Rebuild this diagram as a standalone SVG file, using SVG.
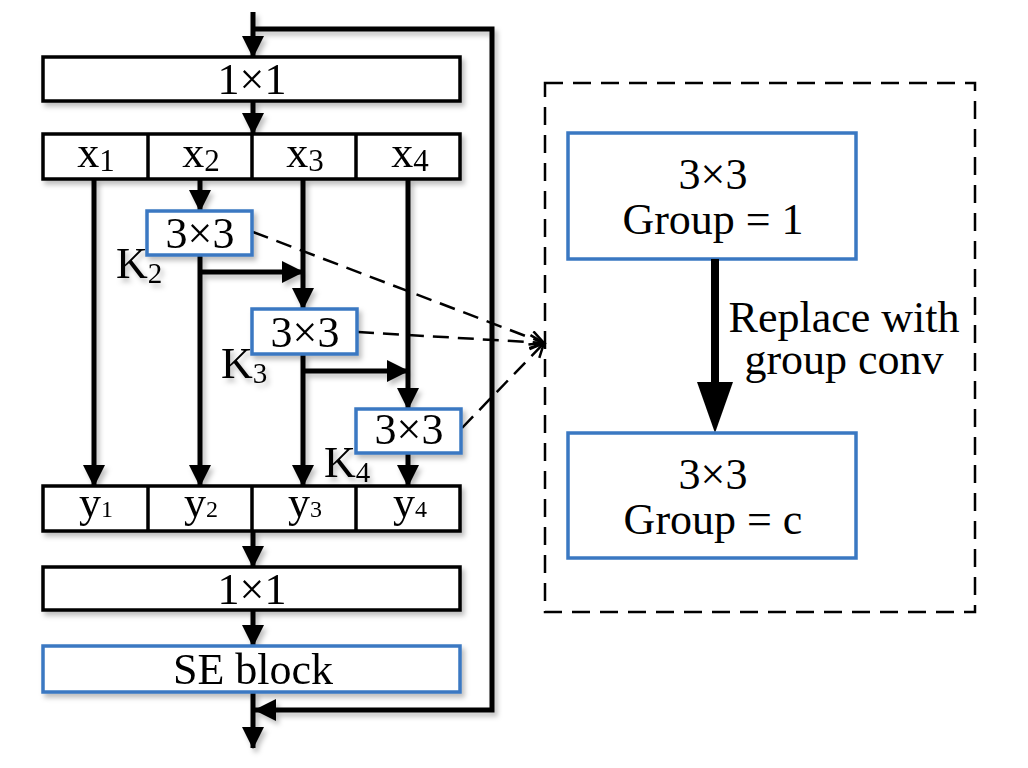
<svg xmlns="http://www.w3.org/2000/svg" width="1028" height="768" viewBox="0 0 1028 768">
<defs>
  <marker id="ah" markerUnits="userSpaceOnUse" markerWidth="22" markerHeight="22" refX="21" refY="11" orient="auto">
    <path d="M0,0 L22,11 L0,22 z" fill="#000"/>
  </marker>
  <marker id="oh" markerUnits="userSpaceOnUse" markerWidth="18" markerHeight="18" refX="15" refY="8" orient="auto">
    <path d="M1,1 L15,8 L1,15" fill="none" stroke="#000" stroke-width="2.5"/>
  </marker>
  <filter id="sh" x="-10%" y="-10%" width="130%" height="130%">
    <feDropShadow dx="3" dy="4" stdDeviation="2.5" flood-color="#000" flood-opacity="0.25"/>
  </filter>
</defs>
<style>
  .bk{fill:#fff;stroke:#000;stroke-width:3.5}
  .bl{fill:#fff;stroke:#3a78c2;stroke-width:3.5}
  .ln{fill:none;stroke:#000;stroke-width:5}
  .dl{fill:none;stroke:#000;stroke-width:2.5;stroke-dasharray:16 9}
  text{font-family:"Liberation Serif","Times New Roman",serif;font-size:44px;fill:#000}
  .c{text-anchor:middle}
</style>
<rect width="1028" height="768" fill="#fff"/>

<g id="connectors" filter="url(#sh)">
  <path class="ln" d="M253,12 V57" marker-end="url(#ah)"/>
  <path class="ln" d="M253,29 H492 V710 H255" marker-end="url(#ah)"/>
  <path class="ln" d="M253,101 V134" marker-end="url(#ah)"/>
  <path class="ln" d="M94,179 V486" marker-end="url(#ah)"/>
  <path class="ln" d="M200,179 V211" marker-end="url(#ah)"/>
  <path class="ln" d="M200,255 V486" marker-end="url(#ah)"/>
  <path class="ln" d="M200,272 H303" marker-end="url(#ah)"/>
  <path class="ln" d="M303,179 V309" marker-end="url(#ah)"/>
  <path class="ln" d="M303,354 V486" marker-end="url(#ah)"/>
  <path class="ln" d="M303,371 H408" marker-end="url(#ah)"/>
  <path class="ln" d="M408,179 V409" marker-end="url(#ah)"/>
  <path class="ln" d="M408,453 V486" marker-end="url(#ah)"/>
  <path class="ln" d="M253,531 V567" marker-end="url(#ah)"/>
  <path class="ln" d="M253,610 V646" marker-end="url(#ah)"/>
  <path class="ln" d="M253,692 V748" marker-end="url(#ah)"/>
</g>

<g id="dashed-links">
  <path class="dl" d="M253,232 L544,343" marker-end="url(#oh)"/>
  <path class="dl" d="M358,332 L544,343" marker-end="url(#oh)"/>
  <path class="dl" d="M462,428 L544,343" marker-end="url(#oh)"/>
</g>

<g id="conv1x1-top" filter="url(#sh)">
  <rect class="bk" x="43" y="57" width="417" height="44"/>
  <text class="c" x="252" y="94">1×1</text>
</g>

<g id="x-split" filter="url(#sh)">
  <rect class="bk" x="43" y="134" width="417" height="45"/>
  <line x1="148" y1="134" x2="148" y2="179" stroke="#000" stroke-width="3.5"/>
  <line x1="252" y1="134" x2="252" y2="179" stroke="#000" stroke-width="3.5"/>
  <line x1="356" y1="134" x2="356" y2="179" stroke="#000" stroke-width="3.5"/>
  <text class="c" x="96" y="167">x<tspan font-size="31" dy="4">1</tspan></text>
  <text class="c" x="201" y="167">x<tspan font-size="31" dy="4">2</tspan></text>
  <text class="c" x="305" y="167">x<tspan font-size="31" dy="4">3</tspan></text>
  <text class="c" x="410" y="167">x<tspan font-size="31" dy="4">4</tspan></text>
</g>

<g id="k2" filter="url(#sh)">
  <rect class="bl" x="147" y="211" width="105" height="44"/>
  <text class="c" x="200" y="248">3×3</text>
  <text x="116" y="278">K<tspan font-size="29" dy="5">2</tspan></text>
</g>

<g id="k3" filter="url(#sh)">
  <rect class="bl" x="252" y="309" width="105" height="45"/>
  <text class="c" x="305" y="347">3×3</text>
  <text x="221" y="378">K<tspan font-size="29" dy="5">3</tspan></text>
</g>

<g id="k4" filter="url(#sh)">
  <rect class="bl" x="356" y="409" width="105" height="44"/>
  <text class="c" x="409" y="444">3×3</text>
  <text x="324" y="477">K<tspan font-size="29" dy="5">4</tspan></text>
</g>

<g id="y-concat" filter="url(#sh)">
  <rect class="bk" x="43" y="486" width="417" height="45"/>
  <line x1="148" y1="486" x2="148" y2="531" stroke="#000" stroke-width="3.5"/>
  <line x1="252" y1="486" x2="252" y2="531" stroke="#000" stroke-width="3.5"/>
  <line x1="356" y1="486" x2="356" y2="531" stroke="#000" stroke-width="3.5"/>
  <text class="c" x="96" y="517">y<tspan font-size="24">1</tspan></text>
  <text class="c" x="201" y="517">y<tspan font-size="24">2</tspan></text>
  <text class="c" x="305" y="517">y<tspan font-size="24">3</tspan></text>
  <text class="c" x="410" y="517">y<tspan font-size="24">4</tspan></text>
</g>

<g id="conv1x1-bottom" filter="url(#sh)">
  <rect class="bk" x="43" y="567" width="417" height="43"/>
  <text class="c" x="252" y="604">1×1</text>
</g>

<g id="se-block" filter="url(#sh)">
  <rect class="bl" x="43" y="646" width="417" height="46"/>
  <text class="c" x="253" y="684">SE block</text>
</g>

<g id="replace-panel">
  <rect x="545" y="83" width="430" height="529" fill="none" stroke="#000" stroke-width="2.5" stroke-dasharray="18 10"/>
</g>

<g id="group1">
  <rect class="bl" x="568" y="133" width="288" height="126"/>
  <text class="c" x="713" y="189">3×3</text>
  <text class="c" x="713" y="234">Group = 1</text>
</g>

<g id="replace-arrow">
  <line x1="715" y1="259" x2="715" y2="386" stroke="#000" stroke-width="8"/>
  <polygon points="697,382 733,382 715,433" fill="#000"/>
  <text class="c" x="844" y="332">Replace with</text>
  <text class="c" x="844" y="374">group conv</text>
</g>

<g id="groupc">
  <rect class="bl" x="568" y="433" width="288" height="125"/>
  <text class="c" x="713" y="489">3×3</text>
  <text class="c" x="713" y="534">Group = c</text>
</g>
</svg>
